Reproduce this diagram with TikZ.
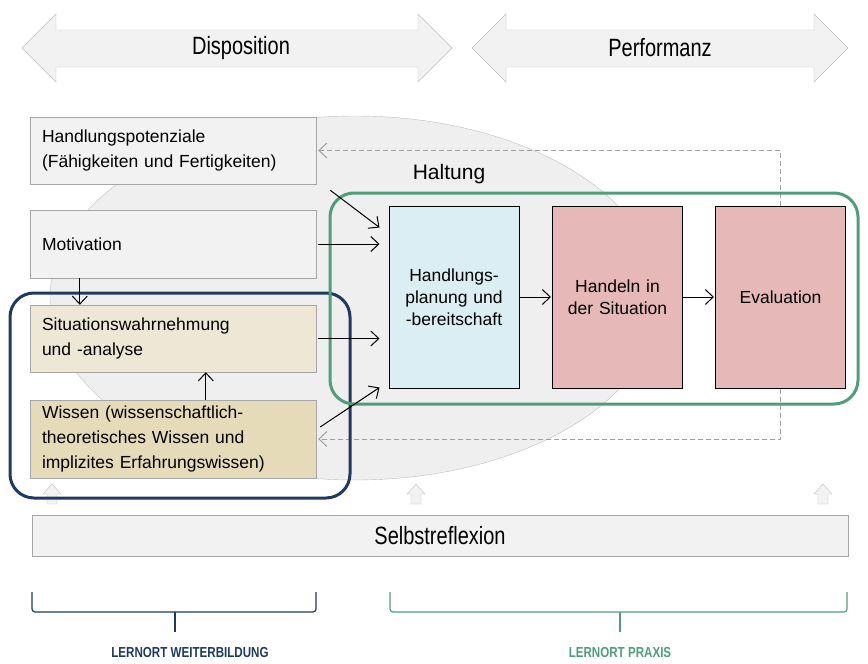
\documentclass[tikz,border=0pt]{standalone}
\usepackage{fontspec}
\setmainfont{Liberation Sans}
\newfontfamily\narrowfont{Liberation Sans}[FakeStretch=0.8]
\usepackage{xcolor}
\usetikzlibrary{positioning,arrows.meta,calc}

\definecolor{boxfill}{HTML}{F2F2F2}
\definecolor{boxline}{HTML}{A6A6A6}
\definecolor{ovalfill}{HTML}{EFEFEF}
\definecolor{ovalline}{HTML}{BFBFBF}
\definecolor{sitfill}{HTML}{EEE7D5}
\definecolor{wisfill}{HTML}{E6DBB8}
\definecolor{planfill}{HTML}{DAEEF3}
\definecolor{actfill}{HTML}{E6B9B8}
\definecolor{navy}{HTML}{1F3A60}
\definecolor{frgreen}{HTML}{4E9E7B}
\definecolor{dashgray}{HTML}{A0A0A0}

\begin{document}
\begin{tikzpicture}[x=1pt, y=-1pt,
    leftbox/.style={draw=boxline, fill=boxfill, text width=262pt, inner xsep=12pt,
        align=left, minimum height=#1, font=\fontsize{17.5}{25}\selectfont},
    stagebox/.style={draw=black, line width=1pt, text width=106pt, inner xsep=12pt,
        align=center, minimum height=182pt, font=\fontsize{17.5}{22}\selectfont},
    arr/.style={line width=1pt, -{Straight Barb[length=8pt,width=15pt]}},
    dasharr/.style={draw=dashgray, line width=1pt, dash pattern=on 5pt off 3pt,
        -{Straight Barb[length=8pt,width=15pt]}},
    biglabel/.style={font=\narrowfont\fontsize{25}{28}\selectfont},
    lernort/.style={font=\narrowfont\bfseries\fontsize{14.5}{16}\selectfont},
]
    \useasboundingbox (0,0) rectangle (868,664);

    % Disposition / Performanz
    \draw[ovalline, fill=boxfill] (22,48) -- (56,14) -- (56,30) -- (418,30) -- (418,14)
        -- (452,48) -- (418,82) -- (418,67) -- (56,67) -- (56,82) -- cycle;
    \draw[ovalline, fill=boxfill] (472,48) -- (506,14) -- (506,30) -- (814,30) -- (814,14)
        -- (848,48) -- (814,82) -- (814,67) -- (506,67) -- (506,82) -- cycle;
    \node[biglabel] (disp) at (241,48) {Disposition};
    \node[biglabel] (perf) at (660,48) {Performanz};

    % Haltung
    \draw[ovalline, fill=ovalfill] (355,298) ellipse [x radius=305pt, y radius=182pt];
    \node[font=\fontsize{21}{25}\selectfont] (halt) at (449,174) {Haltung};

    % Disposition boxes
    \node[leftbox=67pt] (pot) at (173,150.5) {Handlungspotenziale\\(Fähigkeiten und Fertigkeiten)};
    \node[leftbox=68pt] (mot) at (173,244) {Motivation};
    \node[leftbox=67pt, fill=sitfill] (sit) at (173,338.5) {Situationswahrnehmung\\und -analyse};
    \node[leftbox=78pt, fill=wisfill] (wis) at (173,439)
        {Wissen (wissenschaftlich-\\theoretisches Wissen und\\implizites Erfahrungswissen)};

    % Performanz boxes
    \node[stagebox, fill=planfill] (plan) at (454,297) {Handlungs-\\planung und\\-bereitschaft};
    \node[stagebox, fill=actfill] (act) at (617.5,297) {Handeln in\\der Situation};
    \node[stagebox, fill=actfill] (eval) at (780.5,297) {Evaluation};

    % Feedback
    \draw[dasharr, shorten >=2pt] (eval.north) |- (pot.east);
    \draw[dasharr, shorten >=2pt] (eval.south) |- (wis.east);

    % Small arrows to Selbstreflexion
    \foreach \ux in {52,416,823}
        \draw[ovalline, fill=boxfill] (\ux-5,504) -- (\ux-5,494) -- (\ux-9,494) -- (\ux,484)
            -- (\ux+9,494) -- (\ux+5,494) -- (\ux+5,504) -- cycle;

    % Lernort frames
    \draw[navy, line width=3pt, rounded corners=24pt] (10,293) rectangle (350,498);
    \draw[frgreen, line width=3pt, rounded corners=24pt] (330,193) rectangle (858,404);

    % Arrows
    \draw[arr] ([shift={(14,6)}]pot.south east) -- ([shift={(-9,22)}]plan.north west);
    \draw[arr, shorten <=2pt, shorten >=9pt] (mot.east) -- (mot.east -| plan.west);
    \draw[arr, shorten <=2pt, shorten >=9pt] (sit.east) -- (sit.east -| plan.west);
    \draw[arr] ([shift={(4,-12)}]wis.east) -- ([shift={(-9,-1)}]plan.south west);
    \draw[arr] ([shift={(50,0)}]mot.south west) -- ([shift={(50,0)}]sit.north west);
    \draw[arr] ([shift={(176,0)}]wis.north west) -- ([shift={(176,0)}]sit.south west);
    \draw[arr, shorten >=1pt] (plan) -- (act);
    \draw[arr, shorten >=1pt] (act) -- (eval);

    % Selbstreflexion
    \node[draw=boxline, fill=boxfill, minimum width=816pt, minimum height=41pt, biglabel]
        (self) at (440,535.5) {Selbstreflexion};

    % Lernorte
    \draw[navy, line width=1.2pt, rounded corners=3pt] (32,592) -- (32,612) -- (316,612) -- (316,592);
    \draw[navy, line width=1.2pt] (175,612) -- (175,632);
    \draw[frgreen, line width=1.2pt, rounded corners=3pt] (390,592) -- (390,612) -- (847,612) -- (847,592);
    \draw[frgreen, line width=1.2pt] (620,612) -- (620,632);
    \node[lernort, text=navy] (lweit) at (190,653) {LERNORT WEITERBILDUNG};
    \node[lernort, text=frgreen] (lprax) at (620,653) {LERNORT PRAXIS};
\end{tikzpicture}
\end{document}
